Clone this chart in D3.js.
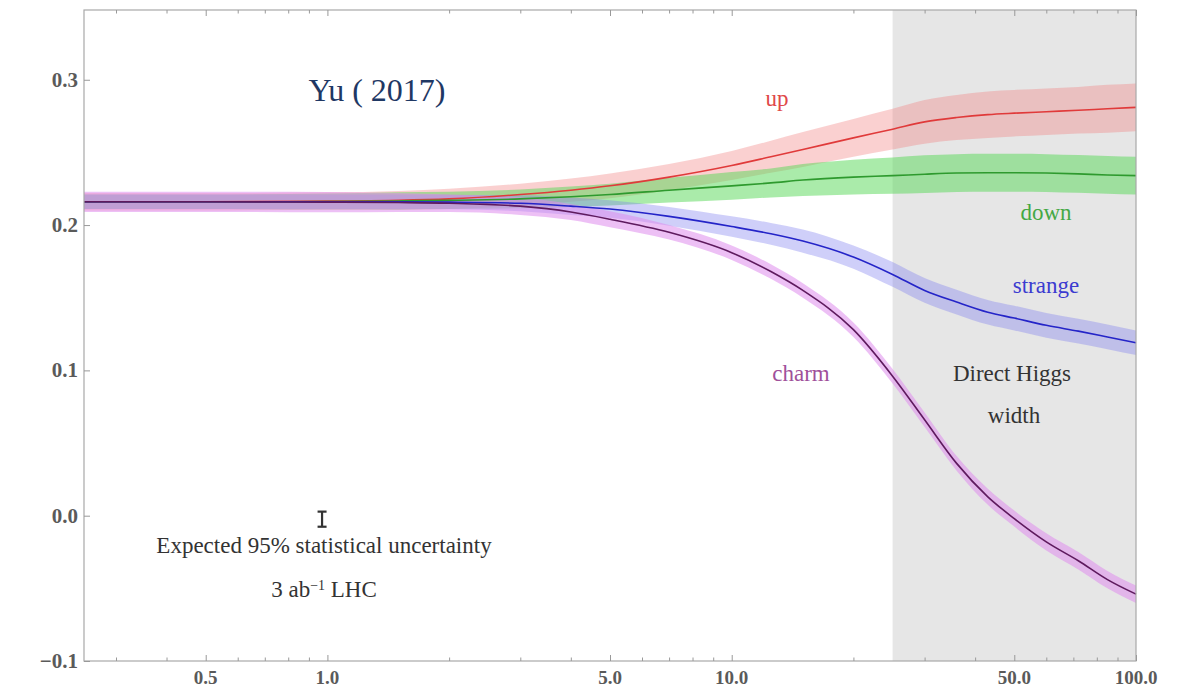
<!DOCTYPE html>
<html>
<head>
<meta charset="utf-8">
<script src="https://cdn.jsdelivr.net/npm/d3@7"></script>
<style>
  body { margin: 0; background: #fff; }
  svg { display: block; }
</style>
</head>
<body>
<div id="chart"></div>
<script>
// x positions shared by all curves
const xs = [0.25, 0.5, 1, 1.5, 2, 3, 4, 5, 7, 10, 12.5, 15, 20, 25, 30, 36, 43, 50, 60, 72, 85, 100];

const upVals = [0.216, 0.216, 0.2165, 0.217, 0.218, 0.221, 0.224, 0.227, 0.233, 0.241, 0.247, 0.252, 0.260, 0.266, 0.271, 0.274, 0.276, 0.277, 0.278, 0.279, 0.280, 0.281];
const upErr = [0.006, 0.006, 0.006, 0.0065, 0.007, 0.0075, 0.008, 0.0085, 0.009, 0.010, 0.011, 0.012, 0.013, 0.014, 0.015, 0.0155, 0.016, 0.016, 0.016, 0.016, 0.0165, 0.0165];

const downVals = [0.216, 0.216, 0.2162, 0.2166, 0.217, 0.218, 0.2195, 0.221, 0.224, 0.227, 0.229, 0.231, 0.233, 0.234, 0.235, 0.2358, 0.236, 0.236, 0.2358, 0.2352, 0.2345, 0.234];
const downErr = [0.005, 0.005, 0.0055, 0.006, 0.006, 0.0065, 0.007, 0.0075, 0.0085, 0.0095, 0.010, 0.011, 0.012, 0.0125, 0.013, 0.013, 0.013, 0.013, 0.013, 0.013, 0.013, 0.013];

const strangeVals = [0.216, 0.216, 0.216, 0.216, 0.2158, 0.215, 0.213, 0.211, 0.206, 0.199, 0.194, 0.189, 0.178, 0.166, 0.155, 0.147, 0.140, 0.136, 0.131, 0.127, 0.123, 0.119];
const strangeErr = [0.005, 0.005, 0.005, 0.005, 0.005, 0.0055, 0.006, 0.006, 0.0065, 0.007, 0.0075, 0.008, 0.008, 0.0085, 0.0085, 0.0085, 0.0085, 0.0085, 0.0085, 0.0085, 0.0085, 0.0085];

const charmVals = [0.216, 0.216, 0.2158, 0.2155, 0.215, 0.213, 0.209, 0.204, 0.195, 0.181, 0.168, 0.155, 0.128, 0.096, 0.066, 0.036, 0.013, -0.002, -0.018, -0.031, -0.044, -0.054];
const charmErr = [0.007, 0.007, 0.007, 0.0065, 0.006, 0.006, 0.0055, 0.0055, 0.005, 0.005, 0.005, 0.005, 0.005, 0.005, 0.005, 0.005, 0.0055, 0.0055, 0.006, 0.006, 0.006, 0.006];

const xMajor = [0.5, 1, 5, 10, 50, 100];
const xMinor = [0.3, 0.4, 0.6, 0.7, 0.8, 0.9, 2, 3, 4, 6, 7, 8, 9, 20, 30, 40, 60, 70, 80, 90];
const yMajor = [-0.1, 0.0, 0.1, 0.2, 0.3];
const higgsRegion = [25, 100];

const W = 1189, H = 691;
const margin = { top: 10, right: 53, bottom: 30, left: 84 };
const width = W - margin.left - margin.right;
const height = H - margin.top - margin.bottom;

const svg = d3.select('#chart')
  .append('svg')
  .attr('width', W)
  .attr('height', H);

const g = svg.append('g')
  .attr('transform', `translate(${margin.left},${margin.top})`);

const x = d3.scaleLog().domain([0.25, 100]).range([0, width]);
const y = d3.scaleLinear().domain([-0.1, 0.348]).range([height, 0]);

// shaded "direct Higgs width" region
g.append('rect')
  .attr('x', x(higgsRegion[0]))
  .attr('y', 0)
  .attr('width', x(higgsRegion[1]) - x(higgsRegion[0]))
  .attr('height', height)
  .attr('fill', '#e6e6e6');

const series = [
  { name: 'up', vals: upVals, err: upErr, line: '#e03a3a', band: 'rgba(240,125,125,0.36)' },
  { name: 'down', vals: downVals, err: downErr, line: '#2e9a2e', band: 'rgba(85,215,85,0.5)' },
  { name: 'strange', vals: strangeVals, err: strangeErr, line: '#2424c8', band: 'rgba(130,130,240,0.38)' },
  { name: 'charm', vals: charmVals, err: charmErr, line: '#5e1a5e', band: 'rgba(222,140,236,0.55)' }
];

const area = d3.area()
  .x(d => x(d.x))
  .y0(d => y(d.v - d.e))
  .y1(d => y(d.v + d.e))
  .curve(d3.curveMonotoneX);

const line = d3.line()
  .x(d => x(d.x))
  .y(d => y(d.v))
  .curve(d3.curveMonotoneX);

const pts = s => xs.map((xv, i) => ({ x: xv, v: s.vals[i], e: s.err[i] }));

series.forEach(s => {
  g.append('path')
    .datum(pts(s))
    .attr('fill', s.band)
    .attr('d', area);
});

series.forEach(s => {
  g.append('path')
    .datum(pts(s))
    .attr('fill', 'none')
    .attr('stroke', s.line)
    .attr('stroke-width', 1.6)
    .attr('d', line);
});

// frame
g.append('rect')
  .attr('width', width)
  .attr('height', height)
  .attr('fill', 'none')
  .attr('stroke', '#a8a8a8')
  .attr('stroke-width', 1.2);

// ticks pointing inward, like a Mathematica frame
const tickStyle = sel => {
  sel.select('.domain').remove();
  sel.selectAll('line').attr('stroke', '#999');
  sel.selectAll('text').remove();
};

g.append('g').attr('transform', `translate(0,${height})`)
  .call(d3.axisBottom(x).tickValues(xMajor).tickSizeInner(-6)).call(tickStyle);
g.append('g').attr('transform', `translate(0,${height})`)
  .call(d3.axisBottom(x).tickValues(xMinor).tickSizeInner(-3.5)).call(tickStyle);
g.append('g')
  .call(d3.axisTop(x).tickValues(xMajor).tickSizeInner(-6)).call(tickStyle);
g.append('g')
  .call(d3.axisTop(x).tickValues(xMinor).tickSizeInner(-3.5)).call(tickStyle);
g.append('g')
  .call(d3.axisLeft(y).tickValues(yMajor).tickSizeInner(-6)).call(tickStyle);

const serif = '"Liberation Serif", "Times New Roman", serif';

// x tick labels
g.append('g').selectAll('text')
  .data(xMajor)
  .join('text')
  .attr('x', d => x(d))
  .attr('y', height + 23)
  .attr('text-anchor', 'middle')
  .attr('font-family', serif)
  .attr('font-size', 19)
  .attr('font-weight', 'bold')
  .attr('fill', '#5a5a5a')
  .text(d3.format('.1f'));

// y tick labels
g.append('g').selectAll('text')
  .data(yMajor)
  .join('text')
  .attr('x', -6)
  .attr('y', d => y(d) + 7)
  .attr('text-anchor', 'end')
  .attr('font-family', serif)
  .attr('font-size', 21)
  .attr('font-weight', 'bold')
  .attr('fill', '#5a5a5a')
  .text(d3.format('.1f'));

// curve labels
const labels = [
  { t: 'up', x: 777, y: 106, c: '#e04848' },
  { t: 'down', x: 1046, y: 220, c: '#44a844' },
  { t: 'strange', x: 1046, y: 293, c: '#3b3bd0' },
  { t: 'charm', x: 801, y: 381, c: '#a0509a' },
  { t: 'Direct Higgs', x: 1012, y: 381, c: '#333' },
  { t: 'width', x: 1014, y: 423, c: '#333' }
];
svg.append('g').selectAll('text')
  .data(labels)
  .join('text')
  .attr('x', d => d.x)
  .attr('y', d => d.y)
  .attr('text-anchor', 'middle')
  .attr('font-family', serif)
  .attr('font-size', 23)
  .attr('fill', d => d.c)
  .text(d => d.t);

// expected uncertainty marker
const ebX = 0.97, ebHalf = 0.0052, ebY = -0.0024;
const eb = g.append('g').attr('stroke', '#333').attr('stroke-width', 2.2);
eb.append('line')
  .attr('x1', x(ebX)).attr('x2', x(ebX))
  .attr('y1', y(ebY - ebHalf)).attr('y2', y(ebY + ebHalf));
[ebY - ebHalf, ebY + ebHalf].forEach(v => {
  eb.append('line')
    .attr('x1', x(ebX) - 4.5).attr('x2', x(ebX) + 4.5)
    .attr('y1', y(v)).attr('y2', y(v));
});

svg.append('text')
  .attr('x', 324)
  .attr('y', 553)
  .attr('text-anchor', 'middle')
  .attr('font-family', serif)
  .attr('font-size', 23)
  .attr('fill', '#333')
  .text('Expected 95% statistical uncertainty');

const lhc = svg.append('text')
  .attr('x', 324)
  .attr('y', 597)
  .attr('text-anchor', 'middle')
  .attr('font-family', serif)
  .attr('font-size', 23)
  .attr('fill', '#333');
lhc.append('tspan').text('3 ab');
lhc.append('tspan').attr('baseline-shift', 'super').attr('font-size', 14).text('\u22121');
lhc.append('tspan').text(' LHC');

// title
svg.append('text')
  .attr('x', 377)
  .attr('y', 101)
  .attr('text-anchor', 'middle')
  .attr('font-family', '"Liberation Serif", "DejaVu Serif", serif')
  .attr('font-size', 32)
  .attr('fill', '#1f3864')
  .text('Yu ( 2017)');
</script>
</body>
</html>
